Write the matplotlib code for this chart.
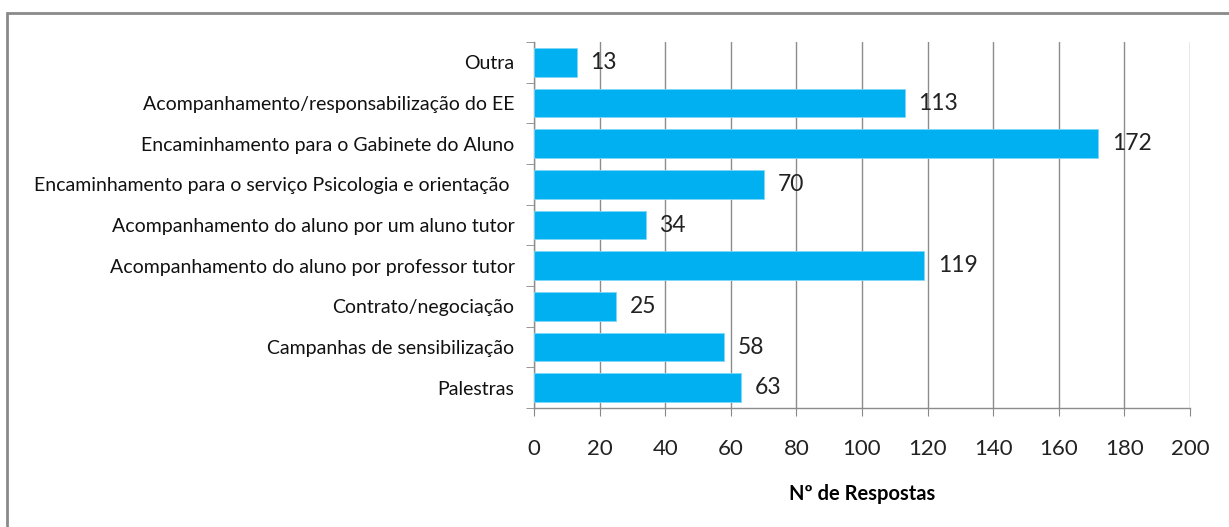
import matplotlib
matplotlib.use("Agg")
import matplotlib.pyplot as plt
from matplotlib.patches import Rectangle
import numpy as np

categories = [
    "Outra",
    "Acompanhamento/responsabilização do EE",
    "Encaminhamento para o Gabinete do Aluno",
    "Encaminhamento para o serviço Psicologia e orientação ",
    "Acompanhamento do aluno por um aluno tutor",
    "Acompanhamento do aluno por professor tutor",
    "Contrato/negociação",
    "Campanhas de sensibilização",
    "Palestras",
]
values = [13, 113, 172, 70, 34, 119, 25, 58, 63]
xticks = [0, 20, 40, 60, 80, 100, 120, 140, 160, 180, 200]

W, H = 1229, 527
fig = plt.figure(figsize=(W / 100, H / 100), dpi=100)
ax = fig.add_axes([534 / W, 1 - 408 / H, (1190 - 534) / W, (408 - 42) / H])

n = len(categories)
ypos = np.arange(n)[::-1]
bar_color = "#00B0F0"
ax.barh(ypos, values, height=0.7, color=bar_color, edgecolor="#7fd7f7", linewidth=0.6, zorder=3)

ax.set_xlim(0, 200)
ax.set_ylim(-0.5, n - 0.5)
ax.set_xticks(xticks)
ax.set_xticklabels([str(t) for t in xticks], fontsize=16, family="Lato", color="#222222")
ax.set_yticks(ypos)
ax.set_yticklabels(categories, fontsize=14, family="Lato", color="#111111")
ax.tick_params(axis="y", length=0, pad=14)
ax.set_yticks(np.arange(-0.5, n, 1), minor=True)
ax.tick_params(axis="y", which="minor", length=6, color="#888888", direction="out")
ax.tick_params(axis="x", length=6, color="#888888", direction="out", pad=16)

ax.grid(axis="x", color="#8c8c8c", linewidth=1.0, zorder=0)
for s in ["top", "right"]:
    ax.spines[s].set_visible(False)
for s in ["left", "bottom"]:
    ax.spines[s].set_color("#8c8c8c")
    ax.spines[s].set_linewidth(1.0)

for y, v in zip(ypos, values):
    ax.annotate(str(v), (v, y), xytext=(10, 0), textcoords="offset points",
                va="center", ha="left", fontsize=16.5, family="Lato", color="#222222", zorder=4)

ax.set_xlabel("Nº de Respostas", fontsize=14.5, family="Lato", fontweight="bold", labelpad=18)

# outer frame
fig.patches.append(Rectangle((7 / W, -0.1), 1.2, 1 - 13 / H + 0.1, transform=fig.transFigure,
                             fill=False, edgecolor="#8a8a8a", linewidth=2.0))

fig.savefig("out.png", dpi=100)
